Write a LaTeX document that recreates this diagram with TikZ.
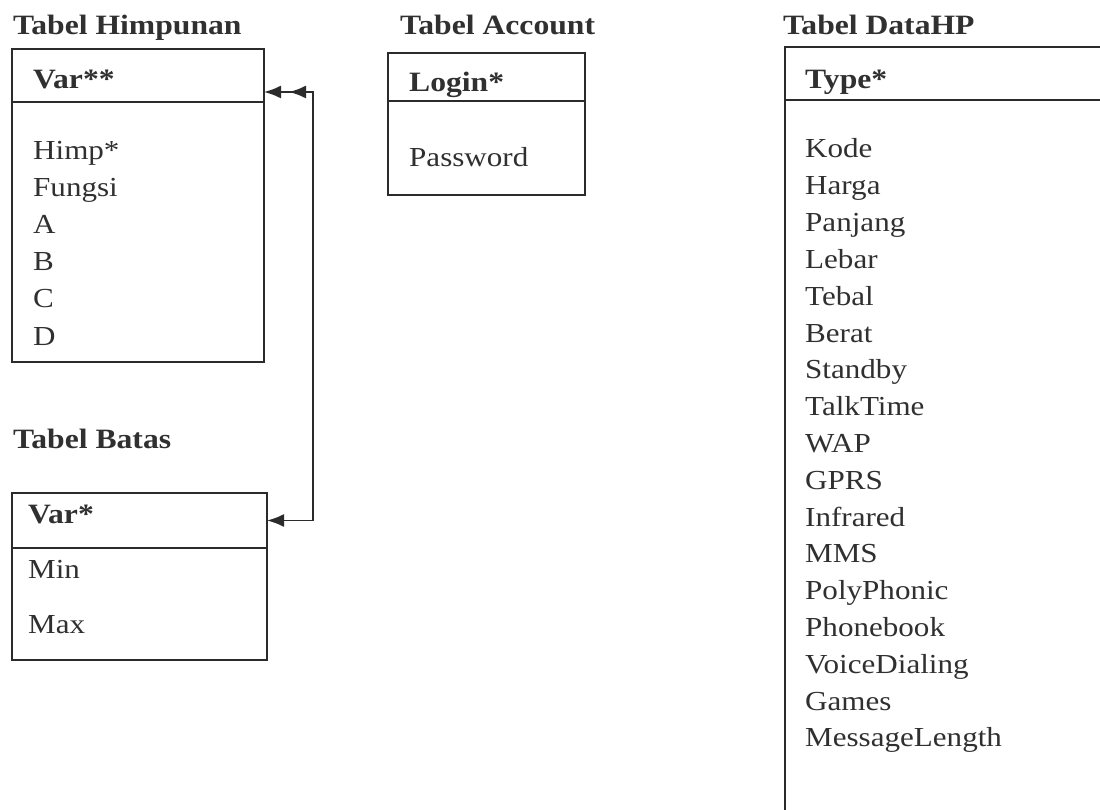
\documentclass[tikz,border=0pt]{standalone}
\usepackage{fontspec}
\setmainfont{Liberation Serif}[FakeStretch=1.13]
\usetikzlibrary{arrows.meta}
\definecolor{ink}{HTML}{2B2B2B}
\definecolor{txt}{HTML}{303030}
\tikzset{
  tbl/.style={draw=ink, line width=1.8pt, rectangle, inner sep=0pt, outer sep=0pt, anchor=north west},
  title/.style={anchor=base west, inner sep=0pt, text=txt, font=\fontsize{28}{34}\selectfont\bfseries},
  key/.style={anchor=base west, inner sep=0pt, text=txt, font=\fontsize{28}{34}\selectfont\bfseries},
  field/.style={anchor=base west, inner sep=0pt, text=txt, font=\fontsize{27.5}{34}\selectfont},
  link/.style={draw=ink, line width=1.8pt, >={Latex[length=17pt,width=13pt]}}
}
\begin{document}
\begin{tikzpicture}[x=1pt,y=-1pt]
\useasboundingbox (0,0) rectangle (1100,810);
\fill[white] (0,0) rectangle (1100,810);
\clip (0,0) rectangle (1100,810);

% Tabel Himpunan
\node[title] (tHimp) at (13,34.5) {Tabel Himpunan};
\node[tbl, minimum width=252pt, minimum height=53pt] (himpH) at (12,49) {};
\node[tbl, minimum width=252pt, minimum height=260pt] (himpB) at (12,102) {};
\node[key] (kHimp) at (33,89) {Var**};
\foreach \t [count=\i from 0] in {Himp*,Fungsi,A,B,C,D}
  \node[field] (fHimp\i) at (33,160+37*\i) {\t};

% Tabel Account
\node[title] (tAcc) at (400,34.5) {Tabel Account};
\node[tbl, minimum width=197pt, minimum height=48pt] (accH) at (388,53) {};
\node[tbl, minimum width=197pt, minimum height=94pt] (accB) at (388,101) {};
\node[key] (kAcc) at (409,92) {Login*};
\node[field] (fAcc) at (409,167) {Password};

% Tabel DataHP (runs past the right and bottom edges)
\node[title] (tHP) at (783,34.5) {Tabel DataHP};
\node[tbl, minimum width=400pt, minimum height=53pt] (hpH) at (785,47) {};
\node[tbl, minimum width=400pt, minimum height=800pt] (hpB) at (785,100) {};
\node[key] (kHP) at (805,89) {Type*};
\foreach \t [count=\i from 0] in {Kode,Harga,Panjang,Lebar,Tebal,Berat,Standby,TalkTime,WAP,GPRS,Infrared,MMS,PolyPhonic,Phonebook,VoiceDialing,Games,MessageLength}
  \node[field] (fHP\i) at (805,158+36.8*\i) {\t};

% Tabel Batas
\node[title] (tBat) at (13,448) {Tabel Batas};
\node[tbl, minimum width=255pt, minimum height=55pt] (batasH) at (12,493) {};
\node[tbl, minimum width=255pt, minimum height=112pt] (batasB) at (12,548) {};
\draw[ink, line width=2.8pt] (batasH.south west) -- (batasH.south east);
\node[key] (kBat) at (28,523) {Var*};
\node[field] (fBat0) at (28,578) {Min};
\node[field] (fBat1) at (28,633) {Max};

% relation Himpunan.Var <-> Batas.Var
\draw[link, <->] ([yshift=10pt]himpH.south east) -- ++(49,0) coordinate (bend) |- (batasH.east);
\draw[link, ->] (bend) -- ([xshift=25pt,yshift=10pt]himpH.south east);
\end{tikzpicture}
\end{document}
